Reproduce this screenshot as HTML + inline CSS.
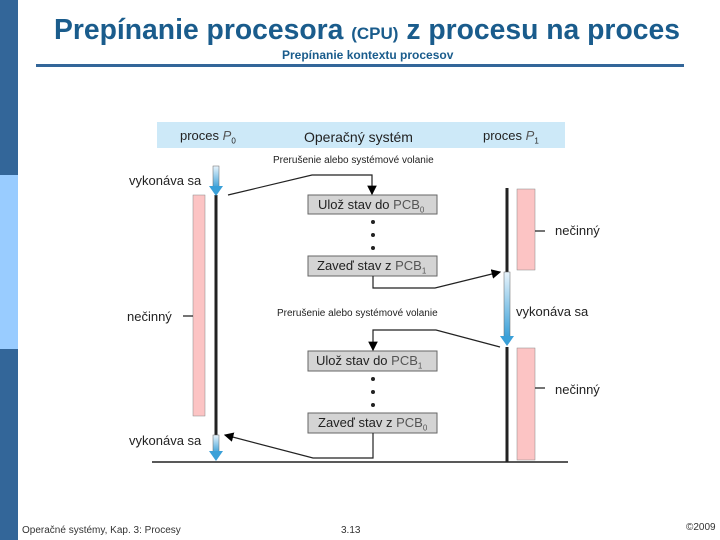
<!DOCTYPE html>
<html><head><meta charset="utf-8"><style>
body{margin:0;width:720px;height:540px;background:#fff;position:relative;overflow:hidden;font-family:"Liberation Sans",sans-serif}
.a{position:absolute;white-space:nowrap}
</style></head><body>
<div class="a" style="left:0;top:0;width:18px;height:175px;background:#336699"></div>
<div class="a" style="left:0;top:175px;width:18px;height:174px;background:#99ccff"></div>
<div class="a" style="left:0;top:349px;width:18px;height:191px;background:#336699"></div>
<div class="a" style="left:54px;top:13px;font-size:28.3px;font-weight:bold;color:#1a5c8c">Prepínanie procesora <span style="font-size:17px">(CPU)</span> z procesu na proces</div>
<div class="a" style="left:36px;top:64px;width:648px;height:3px;background:#336699"></div>
<div class="a" style="left:282px;top:48px;font-size:12px;font-weight:bold;color:#1a5c8c">Prepínanie kontextu procesov</div>
<svg class="a" style="left:0;top:0" width="720" height="540">
<defs><marker id="m" markerWidth="8" markerHeight="8" refX="7" refY="4" orient="auto"><path d="M0,0L8,4L0,8z" fill="#000"/></marker>
<linearGradient id="g" x1="0" y1="0" x2="0" y2="1"><stop offset="0" stop-color="#e8f4fc"/><stop offset="1" stop-color="#3aa0d8"/></linearGradient></defs>
<rect x="157" y="122" width="408" height="26" fill="#cde9f8"/>
<rect x="193" y="195" width="12" height="221" fill="#fcc4c4" stroke="#888" stroke-width="0.5"/>
<rect x="517" y="189" width="18" height="81" fill="#fcc4c4" stroke="#888" stroke-width="0.5"/>
<rect x="517" y="348" width="18" height="112" fill="#fcc4c4" stroke="#888" stroke-width="0.5"/>
<line x1="216" y1="195" x2="216" y2="435" stroke="#222" stroke-width="3"/>
<rect x="213" y="166" width="6" height="22" fill="url(#g)" stroke="#666" stroke-width="0.5"/><path d="M209,186L223,186L216,196z" fill="#3aa0d8"/>
<rect x="213" y="435" width="6" height="18" fill="url(#g)" stroke="#666" stroke-width="0.5"/><path d="M209,451L223,451L216,461z" fill="#3aa0d8"/>
<line x1="507" y1="188" x2="507" y2="272" stroke="#222" stroke-width="3"/>
<rect x="504" y="272" width="6" height="65" fill="url(#g)" stroke="#666" stroke-width="0.5"/><path d="M500,336L514,336L507,346z" fill="#3aa0d8"/>
<line x1="507" y1="347" x2="507" y2="462" stroke="#222" stroke-width="3"/>
<line x1="152" y1="462" x2="568" y2="462" stroke="#222" stroke-width="1.5"/>
<g fill="#d4d4d4" stroke="#666" stroke-width="1">
<rect x="308" y="195" width="129" height="19"/><rect x="308" y="256" width="129" height="20"/>
<rect x="308" y="351" width="129" height="20"/><rect x="308" y="413" width="129" height="20"/></g>
<g fill="#222"><circle cx="373" cy="222" r="2"/><circle cx="373" cy="235" r="2"/><circle cx="373" cy="248" r="2"/>
<circle cx="373" cy="379" r="2"/><circle cx="373" cy="392" r="2"/><circle cx="373" cy="405" r="2"/></g>
<g fill="none" stroke="#222" stroke-width="1.2">
<path d="M228,195L312,175L372,175L372,194" marker-end="url(#m)"/>
<path d="M373,276L373,288L435,288L500,272" marker-end="url(#m)"/>
<path d="M500,347L436,330L373,330L373,350" marker-end="url(#m)"/>
<path d="M373,433L373,458L313,458L225,435" marker-end="url(#m)"/>
<path d="M193,316L183,316M535,231L545,231M535,388L545,388"/>
</g>
</svg>
<div class="a" style="left:180px;top:128px;font-size:13px;color:#222">proces <i style="color:#555">P</i><sub style="font-size:8px">0</sub></div>
<div class="a" style="left:304px;top:129px;font-size:14px;color:#222">Operačný systém</div>
<div class="a" style="left:483px;top:128px;font-size:13px;color:#222">proces <i style="color:#555">P</i><sub style="font-size:8px">1</sub></div>
<div class="a" style="left:273px;top:155px;font-size:10px;color:#222">Prerušenie alebo systémové volanie</div>
<div class="a" style="left:277px;top:308px;font-size:10px;color:#222">Prerušenie alebo systémové volanie</div>
<div class="a" style="left:129px;top:173px;font-size:13px;color:#222">vykonáva sa</div>
<div class="a" style="left:127px;top:309px;font-size:13px;color:#222">nečinný</div>
<div class="a" style="left:129px;top:433px;font-size:13px;color:#222">vykonáva sa</div>
<div class="a" style="left:555px;top:223px;font-size:13px;color:#222">nečinný</div>
<div class="a" style="left:516px;top:304px;font-size:13px;color:#222">vykonáva sa</div>
<div class="a" style="left:555px;top:382px;font-size:13px;color:#222">nečinný</div>
<div class="a" style="left:318px;top:197px;font-size:13px;color:#222">Ulož stav do <span style="color:#555">PCB<sub style="font-size:8px">0</sub></span></div>
<div class="a" style="left:317px;top:258px;font-size:13px;color:#222">Zaveď stav z <span style="color:#555">PCB<sub style="font-size:8px">1</sub></span></div>
<div class="a" style="left:316px;top:353px;font-size:13px;color:#222">Ulož stav do <span style="color:#555">PCB<sub style="font-size:8px">1</sub></span></div>
<div class="a" style="left:318px;top:415px;font-size:13px;color:#222">Zaveď stav z <span style="color:#555">PCB<sub style="font-size:8px">0</sub></span></div>
<div class="a" style="left:22px;top:525px;font-size:10px;color:#333">Operačné systémy, Kap. 3: Procesy</div>
<div class="a" style="left:341px;top:525px;font-size:10px;color:#333">3.13</div>
<div class="a" style="left:686px;top:522px;font-size:10px;color:#333">©2009</div>
</body></html>
